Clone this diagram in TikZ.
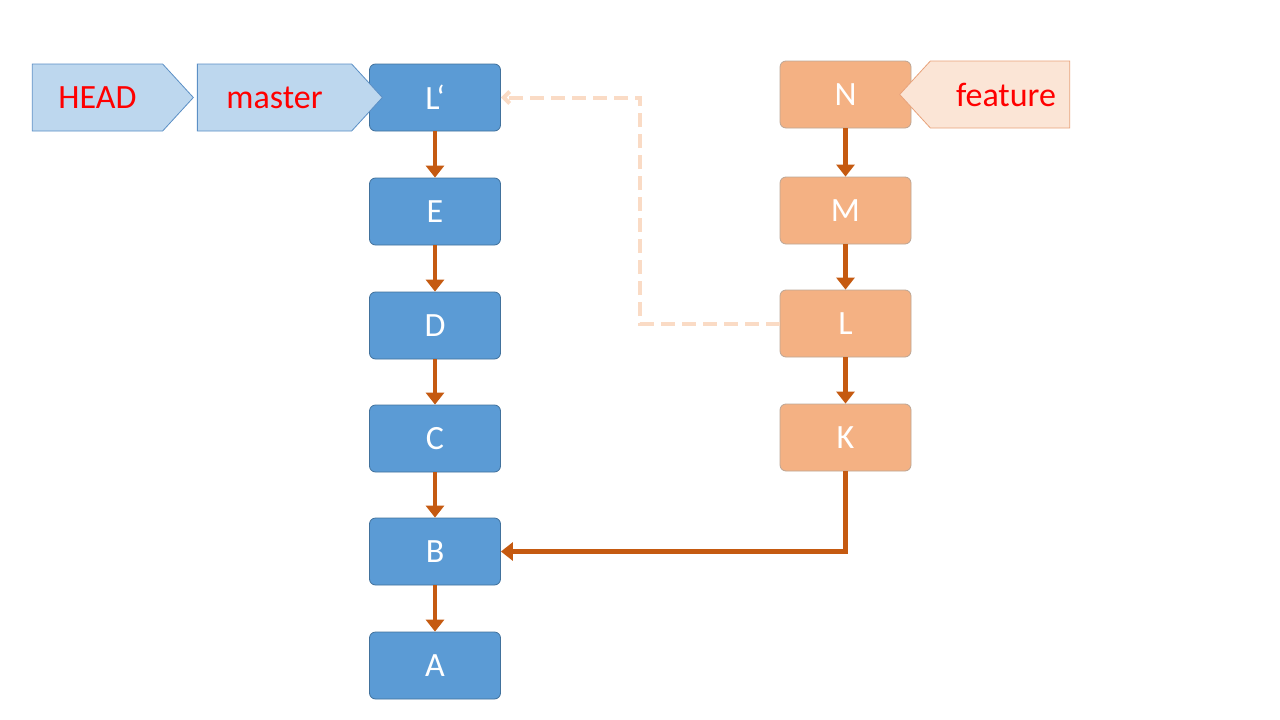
\documentclass[tikz,border=0pt]{standalone}
\usepackage{fontspec}
\setmainfont{Carlito}
\usetikzlibrary{shapes.symbols,arrows.meta}
\definecolor{bfill}{HTML}{5B9BD5}
\definecolor{bdraw}{HTML}{41719C}
\definecolor{ofill}{HTML}{F4B183}
\definecolor{odraw}{HTML}{8F6A4F}
\definecolor{arr}{HTML}{C55A11}
\definecolor{tfill}{HTML}{BDD7EE}
\definecolor{tdraw}{HTML}{5B8FC5}
\definecolor{ffill}{HTML}{FBE5D6}
\definecolor{fdraw}{HTML}{E8A27A}
\begin{document}
\begin{tikzpicture}[x=1pt,y=-1pt,
 box/.style={rounded corners=6pt,minimum width=131pt,minimum height=67pt,inner sep=0pt,text=white,font=\fontsize{34}{34}\selectfont,line width=0.8pt},
 bb/.style={box,fill=bfill,draw=bdraw},
 ob/.style={box,fill=ofill,draw=odraw!60},
 tag/.style={signal,inner sep=0pt,minimum height=67pt,signal pointer angle=95,font=\fontsize{34}{34}\selectfont,text=red,line width=0.8pt},
 ar/.style={arr,line width=4.5pt,-{Triangle[length=12pt,width=18pt]}}]
\useasboundingbox (0,0) rectangle (1280,720);
\node[bb] (Lp) at (435,97.5) {L‘};
\node[bb] (E) at (435,211.5) {E};
\node[bb] (D) at (435,325.5) {D};
\node[bb] (C) at (435,438.5) {C};
\node[bb] (B) at (435,551.5) {B};
\node[bb] (A) at (435,665.5) {A};
\node[ob] (N) at (845.5,94.5) {N};
\node[ob] (M) at (845.5,210.5) {M};
\node[ob] (L) at (845.5,323.5) {L};
\node[ob] (K) at (845.5,437.5) {K};
\node[tag,signal to=east,fill=tfill,draw=tdraw,minimum width=161pt] (HEAD) at (97.5,97.5) {HEAD\hspace{10pt}};
\node[tag,signal to=east,fill=tfill,draw=tdraw,minimum width=185pt] (master) at (274.5,97.5) {master\hspace{12pt}};
\node[tag,signal to=west,fill=ffill,draw=fdraw,minimum width=170pt] (feature) at (1000,94.5) {\hspace{12pt}feature};
\foreach \a/\b in {Lp/E,E/D,D/C,C/B,B/A,N/M,M/L,L/K}
  \draw[ar] (\a) -- (\b);
\draw[ar] (K.south) |- (B.east);
\coordinate (c1) at (640,323.5);
\coordinate (c2) at (640,97.5);
\draw[ffill!80!ofill,line width=4pt,dash pattern=on 14pt off 7pt,-{Straight Barb[length=6pt,width=12pt]}] (L.west) -- (c1) -- (c2) -- (Lp.east);
\end{tikzpicture}
\end{document}
